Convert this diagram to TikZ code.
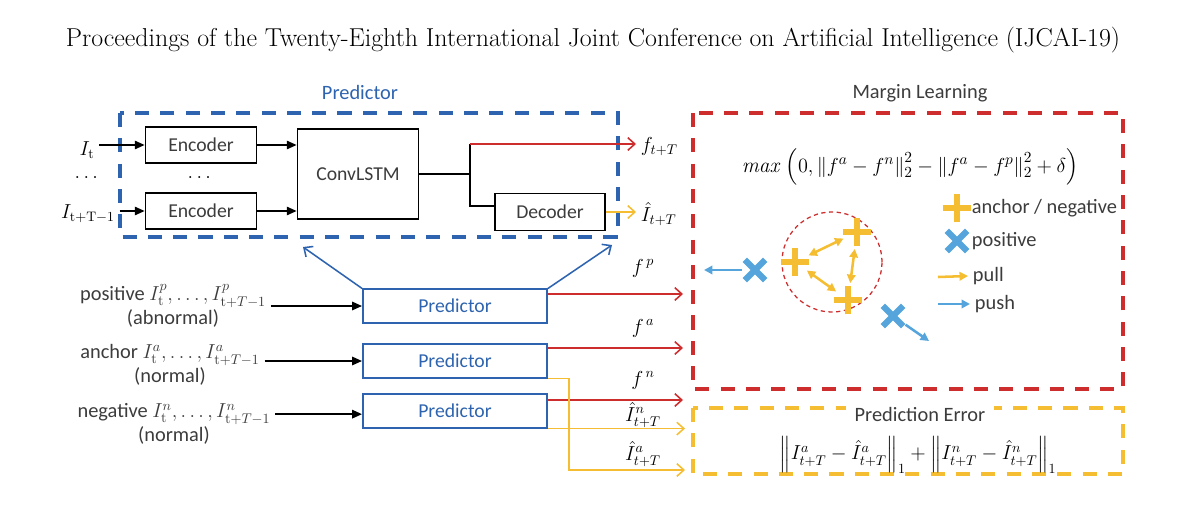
\documentclass[tikz,border=0pt]{standalone}
\usepackage{amsmath}
\usepackage{fontspec}
\setsansfont{Carlito}
\usetikzlibrary{arrows.meta,positioning,shapes.misc}
\definecolor{predblue}{RGB}{46,100,175}
\definecolor{marginred}{RGB}{205,45,45}
\definecolor{erryellow}{RGB}{245,190,50}
\definecolor{pushblue}{RGB}{85,165,220}
\definecolor{labelgray}{RGB}{60,60,60}
\begin{document}
\begin{tikzpicture}[x=0.025cm, y=-0.025cm, font=\fontsize{14}{17}\selectfont,
    blk/.style={draw, line width=1.1pt, inner sep=0pt, font=\sffamily\fontsize{14}{17}\selectfont, text=labelgray},
    predbox/.style={blk, line width=1.4pt, draw=predblue, text=predblue, minimum width=4.6cm, minimum height=0.83cm},
    dashbox/.style={line width=2.6pt, dash pattern=on 10pt off 8pt},
    darr/.style={-{Triangle[length=7pt,width=6pt]}, line width=1.1pt},
    barb/.style={-{Straight Barb[length=5pt,width=9pt]}, line width=1.1pt},
    lbl/.style={font=\sffamily\fontsize{14.5}{17}\selectfont, text=labelgray},
    plusmk/.style={cross out, draw=erryellow, line width=4.5pt, minimum size=10pt, inner sep=0pt, rotate=45},
    xmk/.style={cross out, draw=pushblue, line width=4.5pt, minimum size=10pt, inner sep=0pt},
    pull/.style={{Triangle[length=6pt,width=6pt]}-{Triangle[length=6pt,width=6pt]}, erryellow, line width=1.8pt},
    push/.style={-{Triangle[length=6pt,width=6pt]}, pushblue, line width=1.8pt}]
  \useasboundingbox (0,0) rectangle (1186,532);
  \node (title) at (593,40) {\fontsize{18.4}{22}\selectfont Proceedings of the Twenty-Eighth International Joint Conference on Artificial Intelligence (IJCAI-19)};

  % Predictor
  \node[lbl, text=predblue] (predlbl) at (360,92) {Predictor};
  \draw[dashbox, predblue] (120,113) rectangle (618,237);
  \node[blk, minimum width=2.78cm, minimum height=0.9cm] (enc1) at (201,145) {Encoder};
  \node[blk, minimum width=2.78cm, minimum height=0.9cm] (enc2) at (201,211) {Encoder};
  \node[blk, minimum width=3.03cm, minimum height=2.25cm] (lstm) at (358,174) {ConvLSTM};
  \node[blk, minimum width=2.75cm, minimum height=0.93cm] (dec) at (550,212) {Decoder};
  \node (it) at (87,150) {$I_{\mathrm{t}}$};
  \node (dots1) at (88,178) {$\dots$};
  \node (dots2) at (201,178) {$\dots$};
  \node (itt) at (88,214) {$I_{\mathrm{t+T-1}}$};
  \draw[darr] (it.east |- enc1) -- (enc1);
  \draw[darr] (itt.east |- enc2) -- (enc2);
  \draw[darr] (enc1) -- (enc1 -| lstm.west);
  \draw[darr] (enc2) -- (enc2 -| lstm.west);
  \coordinate (brtop) at (470,144);
  \coordinate (brbot) at (470,206);
  \node[anchor=west] (ftt) at (636,147) {$f_{t+T}$};
  \node[anchor=west] (iht) at (636,214) {$\hat{I}_{t+T}$};
  \draw[line width=1.1pt] (lstm) -- (lstm -| brtop);
  \draw[line width=1.1pt] (brtop) -- (brbot) -- (brbot -| dec.west);
  \draw[barb, marginred] (brtop) -- (brtop -| ftt.west);
  \draw[barb, erryellow] (dec) -- (dec -| iht.west);

  % triplet inputs
  \node[predbox] (p1) at (455,306) {Predictor};
  \node[predbox] (p2) at (455,361) {Predictor};
  \node[predbox] (p3) at (455,411) {Predictor};
  \node[lbl, align=center] (pos) at (173,306) {positive $I^p_{\mathrm{t}},\dots,I^p_{\mathrm{t}+T-1}$\\(abnormal)};
  \node[lbl, align=center] (anc) at (170,365) {anchor $I^a_{\mathrm{t}},\dots,I^a_{\mathrm{t}+T-1}$\\(normal)};
  \node[lbl, align=center] (neg) at (174,424) {negative $I^n_{\mathrm{t}},\dots,I^n_{\mathrm{t}+T-1}$\\(normal)};
  \draw[darr] (pos.east |- p1) -- (p1);
  \draw[darr] (anc.east |- p2) -- (p2);
  \draw[darr] ([yshift=7pt]neg.east) -- ([yshift=7pt]neg.east -| p3.west);
  \coordinate (upl) at (303,247);
  \coordinate (upr) at (612,245);
  \draw[barb, predblue] (p1.north west) -- (upl);
  \draw[barb, predblue] (p1.north east) -- (upr);

  % outputs
  \coordinate (inp) at (683,294);
  \coordinate (ina) at (683,348);
  \coordinate (inn) at (683,400);
  \coordinate (ihn) at (685,430);
  \coordinate (iha) at (685,470);
  \draw[barb, marginred] (p1.east |- inp) -- (inp);
  \draw[barb, marginred] (p2.east |- ina) -- (ina);
  \draw[barb, marginred] (p3.east |- inn) -- (inn);
  \draw[barb, erryellow] (p3.south east) -- (p3.south east -| ihn);
  \draw[barb, erryellow] (p2.south east) -- ++(21,0) |- (iha);
  \node (fp) at (643,268) {$f^{\,p}$};
  \node (fa) at (643,328) {$f^{\,a}$};
  \node (fn) at (643,380) {$f^{\,n}$};
  \node (ihnl) at (643,415) {$\hat{I}^n_{t+T}$};
  \node (ihal) at (643,454) {$\hat{I}^a_{t+T}$};

  % Margin Learning
  \node[lbl] (mlbl) at (920,93) {Margin Learning};
  \draw[dashbox, marginred] (693,113) rectangle (1123,389);
  \node[font=\fontsize{15.2}{18}\selectfont] (loss) at (910,167) {$\mathit{max}\,\left(0,\left\|f^a-f^n\right\|_2^2-\left\|f^a-f^p\right\|_2^2+\delta\right)$};
  \draw[marginred, line width=0.9pt, dash pattern=on 3pt off 2.5pt] (832,262) circle (1.25cm);
  \node[plusmk] (pa) at (795,262) {};
  \node[plusmk] (pb) at (857,232) {};
  \node[plusmk] (pc) at (848,300) {};
  \draw[pull, shorten <=3pt, shorten >=3pt] (pa) -- (pb);
  \draw[pull, shorten <=3pt, shorten >=3pt] (pb) -- (pc);
  \draw[pull, shorten <=3pt, shorten >=3pt] (pa) -- (pc);
  \node[xmk] (xa) at (755,270) {};
  \node[xmk] (xb) at (893,316) {};
  \coordinate (pushl) at (704,270);
  \coordinate (pushr) at (929,341);
  \draw[push, shorten <=2pt] (xa) -- (pushl);
  \draw[push, shorten <=2pt] (xb) -- (pushr);

  % legend
  \node[plusmk] (lgp) at (957,208) {};
  \node[lbl, anchor=west] (lgptxt) at (967,208) {anchor / negative};
  \node[xmk] (lgx) at (957,241) {};
  \node[lbl, anchor=west] (lgxtxt) at (967,241) {positive};
  \coordinate (pulla) at (938,277);
  \node[lbl, anchor=west] (pulltxt) at (968,276) {pull};
  \draw[-{Triangle[length=6pt,width=6pt]}, erryellow, line width=1.8pt] (pulla) -- (pulltxt.west);
  \coordinate (pusha) at (938,304);
  \node[lbl, anchor=west] (pushtxt) at (970,304) {push};
  \draw[push] (pusha) -- (pushtxt.west);

  % Prediction Error
  \draw[dashbox, erryellow] (693,408) rectangle (1123,474);
  \node[lbl, fill=white, inner xsep=6pt] (errlbl) at (920,414) {Prediction Error};
  \node (errf) at (918,455) {$\left\|I^a_{t+T}-\hat{I}^a_{t+T}\right\|_1+\left\|I^n_{t+T}-\hat{I}^n_{t+T}\right\|_1$};
\end{tikzpicture}
\end{document}
